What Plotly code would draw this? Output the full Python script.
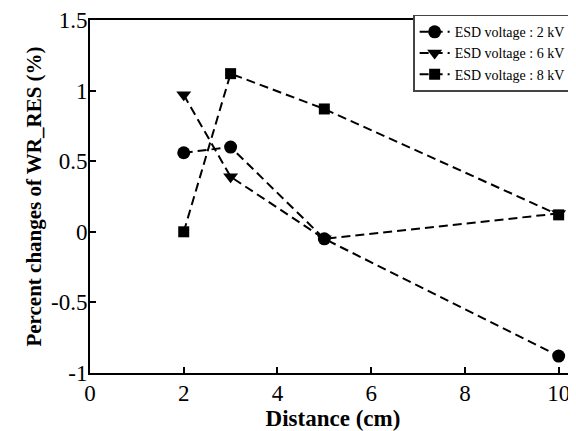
import plotly.graph_objects as go

distance = [2, 3, 5, 10]
v2kv = [0.56, 0.60, -0.05, -0.88]
v6kv = [0.97, 0.39, -0.05, 0.13]
v8kv = [0.0, 1.12, 0.87, 0.12]

series = [
    ("ESD voltage : 2 kV", v2kv, "circle", 13),
    ("ESD voltage : 6 kV", v6kv, "triangle-down", 13),
    ("ESD voltage : 8 kV", v8kv, "square", 11),
]

fig = go.Figure()
for name, vals, sym, sz in series:
    fig.add_trace(go.Scatter(
        x=distance, y=vals, name=name, mode="lines+markers",
        line=dict(color="black", width=2, dash="9px,5px"),
        marker=dict(symbol=sym, size=sz, color="black"),
    ))

font = "Liberation Serif, Times New Roman, serif"
fig.update_layout(
    width=568, height=423,
    margin=dict(l=82, r=0, t=12, b=58, autoexpand=False),
    paper_bgcolor="white", plot_bgcolor="white",
    font=dict(family=font, color="black"),
    showlegend=True,
    legend=dict(x=0.99, xanchor="right", y=1.015, yanchor="top",
                bordercolor="#444", borderwidth=1.5,
                font=dict(size=14, family=font), bgcolor="white",
                tracegroupgap=0),
    xaxis=dict(range=[0, 10.37], tickvals=[0, 2, 4, 6, 8, 10],
               ticks="inside", ticklen=6, tickcolor="black", tickwidth=1.5,
               showline=True, linecolor="black", linewidth=2, mirror=True,
               showgrid=False, zeroline=False, automargin=False,
               ticklabeloverflow="allow", ticklabelstandoff=-2,
               tickfont=dict(size=23, family=font),
               title=dict(text="<b>Distance (cm)</b>", font=dict(size=23, family=font), standoff=2)),
    yaxis=dict(range=[-1, 1.5], tickvals=[-1, -0.5, 0, 0.5, 1, 1.5],
               ticktext=["-1", "-0.5", "0", "0.5", "1", "1.5"],
               ticks="inside", ticklen=6, tickcolor="black", tickwidth=1.5,
               showline=True, linecolor="black", linewidth=2,
               showgrid=False, zeroline=False, automargin=False,
               ticklabeloverflow="allow", ticklabelstandoff=-4,
               tickfont=dict(size=23, family=font),
               title=dict(text="<b>Percent changes of WR_RES (%)</b>", font=dict(size=21, family=font), standoff=4)),
)

fig.write_html("out.html")
